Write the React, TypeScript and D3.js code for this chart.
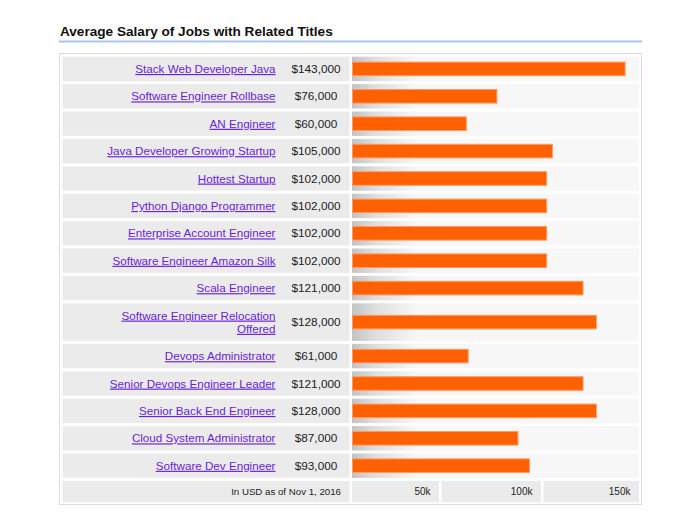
import React from "react";
import * as d3 from "d3";

const categories: string[] = [
  "Stack Web Developer Java",
  "Software Engineer Rollbase",
  "AN Engineer",
  "Java Developer Growing Startup",
  "Hottest Startup",
  "Python Django Programmer",
  "Enterprise Account Engineer",
  "Software Engineer Amazon Silk",
  "Scala Engineer",
  "Software Engineer Relocation Offered",
  "Devops Administrator",
  "Senior Devops Engineer Leader",
  "Senior Back End Engineer",
  "Cloud System Administrator",
  "Software Dev Engineer",
];

const salaries: number[] = [
  143000, 76000, 60000, 105000, 102000, 102000, 102000, 102000, 121000, 128000,
  61000, 121000, 128000, 87000, 93000,
];

const tickValues: number[] = [50000, 100000, 150000];
const tickLabels: string[] = ["50k", "100k", "150k"];
const title = "Average Salary of Jobs with Related Titles";
const footnote = "In USD as of Nov 1, 2016";

// layout
const FONT = "'Liberation Sans', Arial, Helvetica, sans-serif";
const BOX = { x: 59.5, y: 53.5, w: 582, h: 451 };
const LABEL_CELL = { x: 62.5, w: 287 };
const BAR_CELL = { x: 352, w: 287 };
const FIRST_TOP = 56.7;
const ROW_H = 24.4;
const LINE_H = 13.2;
const GAP = 3;
const FOOT_H = 21.5;
const BAR_H = 14.6;
const LABEL_RIGHT = 275.5;
const VALUE_CX = 316;
const WRAP_W = 175;
const LABEL_FS = 11.65;
const TICK_CELL_EDGES: [number, number][] = [
  [352, 439],
  [441.5, 541],
  [543.5, 639],
];

function wrap(text: string, maxW: number): string[] {
  let ctx: CanvasRenderingContext2D | null = null;
  try {
    ctx = document.createElement("canvas").getContext("2d");
  } catch (e) {
    ctx = null;
  }
  const measure = (s: string) => {
    if (ctx) {
      ctx.font = `${LABEL_FS}px ${FONT}`;
      return ctx.measureText(s).width;
    }
    return s.length * 6;
  };
  const words = text.split(" ");
  const lines: string[] = [];
  let cur = "";
  for (const w of words) {
    const t = cur ? cur + " " + w : w;
    if (measure(t) > maxW && cur) {
      lines.push(cur);
      cur = w;
    } else cur = t;
  }
  if (cur) lines.push(cur);
  return lines;
}

export default function App() {
  const x = d3.scaleLinear().domain([0, 150000]).range([BAR_CELL.x, BAR_CELL.x + 287]);
  const fmt = d3.format("$,.0f");

  const rows: { label: string[]; value: number; top: number; h: number }[] = [];
  let top = FIRST_TOP;
  categories.forEach((c, i) => {
    const lines = wrap(c, WRAP_W);
    const h = ROW_H + (lines.length - 1) * LINE_H;
    rows.push({ label: lines, value: salaries[i], top, h });
    top += h + GAP;
  });
  const footTop = top;

  return (
    <svg
      width={700}
      height={525}
      style={{ position: "absolute", left: 0, top: 0, background: "#fff" }}
      fontFamily={FONT}
    >
      <defs>
        <linearGradient id="rowGrad" x1="0" x2="1" y1="0" y2="0">
          <stop offset="0" stopColor="#c3c3c3" />
          <stop offset="0.08" stopColor="#dedede" />
          <stop offset="0.23" stopColor="#f7f7f7" />
          <stop offset="1" stopColor="#f7f7f7" />
        </linearGradient>
      </defs>
      <rect width={700} height={525} fill="#fff" />
      <text x={60} y={36} fontSize={13.6} fontWeight="bold" fill="#111">
        {title}
      </text>
      <line x1={59} x2={642} y1={41.5} y2={41.5} stroke="#a9c5f3" strokeWidth={2} />
      <rect x={BOX.x} y={BOX.y} width={BOX.w} height={BOX.h} fill="#fff" stroke="#dddddd" />
      {rows.map((r, i) => {
        const cy = r.top + r.h / 2;
        return (
          <g key={i}>
            <rect x={LABEL_CELL.x} y={r.top} width={LABEL_CELL.w} height={r.h} fill="#ebebeb" />
            <rect x={BAR_CELL.x} y={r.top} width={BAR_CELL.w} height={r.h} fill="url(#rowGrad)" />
            <text
              x={LABEL_RIGHT}
              textAnchor="end"
              fontSize={LABEL_FS}
              fill="#6a22d8"
              style={{ textDecoration: "underline" }}
            >
              {r.label.map((l, j) => (
                <tspan
                  key={j}
                  x={LABEL_RIGHT}
                  y={cy - ((r.label.length - 1) * LINE_H) / 2 + j * LINE_H}
                  dy="0.35em"
                >
                  {l}
                </tspan>
              ))}
            </text>
            <text x={VALUE_CX} y={cy} dy="0.35em" textAnchor="middle" fontSize={11.8} fill="#222">
              {fmt(r.value)}
            </text>
            <rect
              x={x(0) + 0.5}
              y={cy - BAR_H / 2 + 0.5}
              width={x(r.value) - x(0) - 1}
              height={BAR_H - 1}
              fill="#ff6100"
              stroke="#ff9a66"
              strokeWidth={1}
            />
          </g>
        );
      })}
      <rect x={LABEL_CELL.x} y={footTop} width={LABEL_CELL.w} height={FOOT_H} fill="#ebebeb" />
      <text x={341} y={footTop + FOOT_H / 2} dy="0.35em" textAnchor="end" fontSize={9.7} fill="#222">
        {footnote}
      </text>
      {tickValues.map((t, i) => {
        const [a, b] = TICK_CELL_EDGES[i];
        return (
          <g key={t}>
            <rect x={a} y={footTop} width={b - a} height={FOOT_H} fill="#ebebeb" />
            <text x={b - 8.5} y={footTop + FOOT_H / 2} dy="0.35em" textAnchor="end" fontSize={10} fill="#222">
              {tickLabels[i]}
            </text>
          </g>
        );
      })}
    </svg>
  );
}
